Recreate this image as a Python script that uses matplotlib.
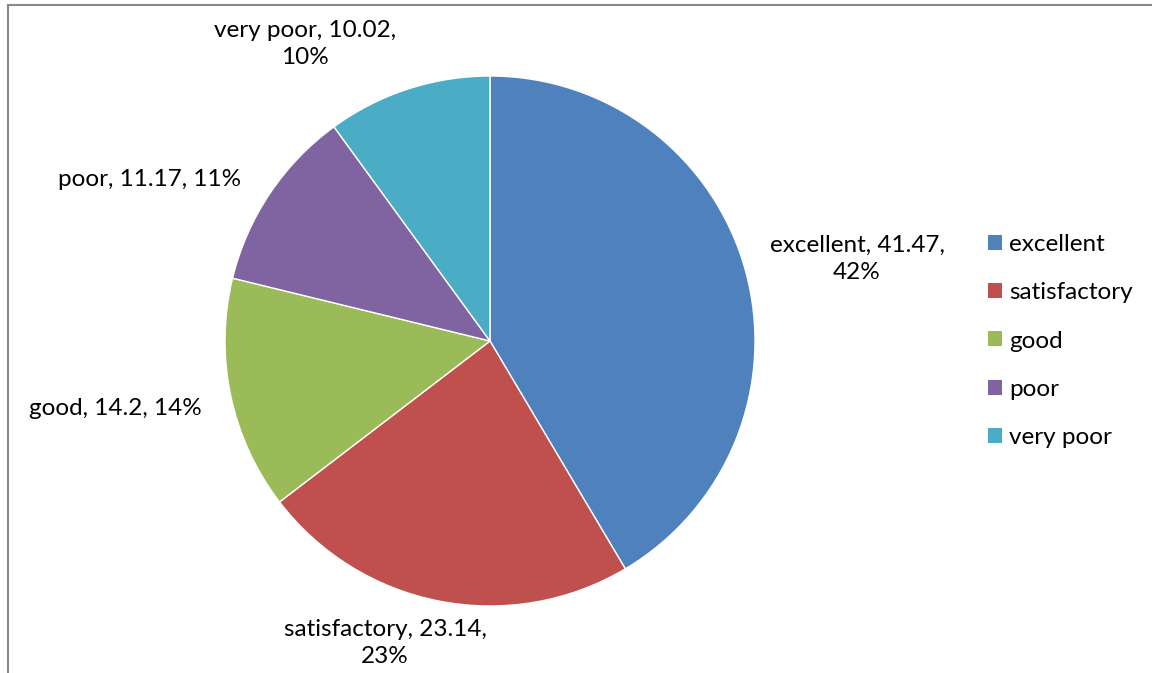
import matplotlib.pyplot as plt
from matplotlib.lines import Line2D
from matplotlib.patches import Patch

plt.rcParams['font.family'] = ['Lato', 'DejaVu Sans']

categories = ['excellent', 'satisfactory', 'good', 'poor', 'very poor']
values = [41.47, 23.14, 14.2, 11.17, 10.02]
percents = ['42%', '23%', '14%', '11%', '10%']
colors = ['#4F81BD', '#C0504D', '#9BBB59', '#8064A2', '#4BACC6']

label_texts = [
    'excellent, 41.47,\n42%',
    'satisfactory, 23.14,\n23%',
    'good, 14.2, 14%',
    'poor, 11.17, 11%',
    'very poor, 10.02,\n10%',
]
# label centres in pie-radius units (layout only)
label_pos = [(1.385, 0.309), (-0.396, -1.14), (-1.415, -0.253),
             (-1.283, 0.608), (-0.698, 1.121)]

W, H = 1152, 673
fig = plt.figure(figsize=(W / 100, H / 100), dpi=100)
cx, cy, r = 490, H - 341, 265
ax = fig.add_axes([(cx - r) / W, (cy - r) / H, 2 * r / W, 2 * r / H])

wedges, _ = ax.pie(values, colors=colors, startangle=90, counterclock=False,
                   wedgeprops=dict(edgecolor='white', linewidth=1))
ax.set_xlim(-1, 1)
ax.set_ylim(-1, 1)
ax.set_aspect('equal')
ax.axis('off')

for txt, (x, y) in zip(label_texts, label_pos):
    ax.text(x, y, txt, ha='center', va='center', fontsize=17.5,
            linespacing=1.38, clip_on=False)

handles = [Patch(facecolor=c, edgecolor='none') for c in colors]
fig.legend(handles, categories, loc='center left',
           bbox_to_anchor=(966 / W, (H - 341) / H), frameon=False,
           fontsize=17.5, handlelength=0.58, handleheight=0.58,
           handletextpad=0.3, labelspacing=1.12)

# chart area border (left and top edges visible)
fig.add_artist(Line2D([8 / W, 8 / W], [0, 1 - 5 / H], color='#898989', lw=1.5))
fig.add_artist(Line2D([8 / W, 1], [1 - 5 / H, 1 - 5 / H], color='#898989', lw=1.5))

fig.savefig('out.png', dpi=100)
